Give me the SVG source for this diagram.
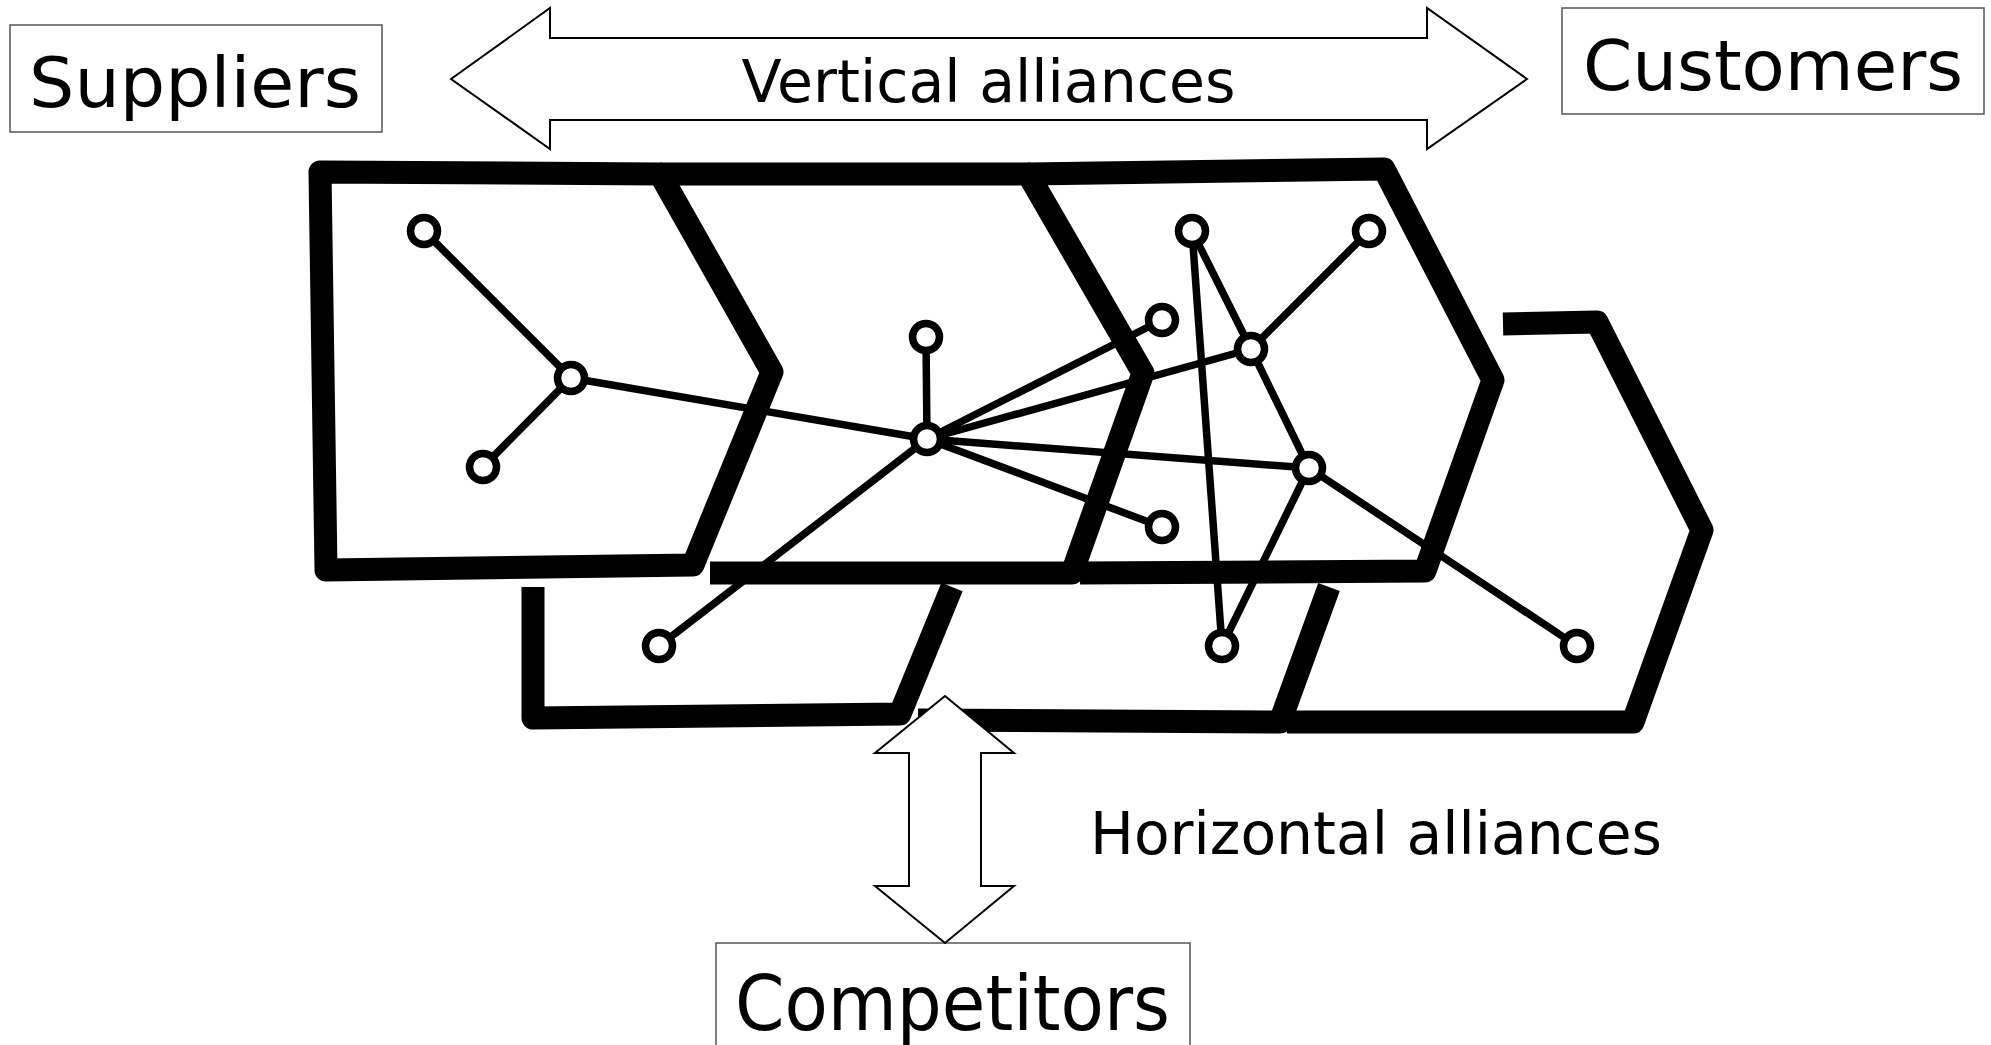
<svg xmlns="http://www.w3.org/2000/svg" width="1991" height="1045" viewBox="0 0 1991 1045">
<style>
.lbl{font-family:"DejaVu Sans","Liberation Sans",sans-serif;fill:#000}
.box{fill:#fff;stroke:#555;stroke-width:1.5}
.arrow{fill:#fff;stroke:#000;stroke-width:2;stroke-linejoin:miter}
.sk{fill:none;stroke:#000;stroke-width:23;stroke-linejoin:round;stroke-linecap:butt}
.edge{stroke:#000;stroke-width:7.5;stroke-linecap:round}
.nd{fill:#fff;stroke:#000;stroke-width:7.5}
</style>
<rect width="1991" height="1045" fill="#fff"/>

<g id="firm-boxes">
<path id="box1" class="sk" d="M320,172 L660,174 L772,372 L693,565 L326,570 Z"/>
<path id="box2" class="sk" d="M710,573 L1072,573 L1143,373 L1028,174 L660,174"/>
<path id="box3" class="sk" d="M1080,573 L1425,571 L1493,380 L1384,169 L1028,174"/>
<path id="box4" class="sk" d="M533,587 L533,718 L900,714 L952,587"/>
<path id="box5" class="sk" d="M918,720 L1280,722 L1329,587"/>
<path id="box6" class="sk" d="M1287,722 L1633,722 L1702,530 L1597,322 L1503,324"/>
</g>

<g id="connectors">
<line class="edge" x1="424" y1="231" x2="571" y2="378"/>
<line class="edge" x1="483" y1="467" x2="571" y2="378"/>
<line class="edge" x1="571" y1="378" x2="927" y2="439"/>
<line class="edge" x1="926" y1="337" x2="927" y2="439"/>
<line class="edge" x1="927" y1="439" x2="1162" y2="320"/>
<line class="edge" x1="927" y1="439" x2="1251" y2="349"/>
<line class="edge" x1="927" y1="439" x2="1309" y2="468"/>
<line class="edge" x1="927" y1="439" x2="1162" y2="527"/>
<line class="edge" x1="927" y1="439" x2="659" y2="646"/>
<line class="edge" x1="1192" y1="231" x2="1222" y2="646"/>
<line class="edge" x1="1192" y1="231" x2="1251" y2="349"/>
<line class="edge" x1="1369" y1="231" x2="1251" y2="349"/>
<line class="edge" x1="1251" y1="349" x2="1309" y2="468"/>
<line class="edge" x1="1309" y1="468" x2="1222" y2="646"/>
<line class="edge" x1="1309" y1="468" x2="1577" y2="646"/>
</g>

<g id="n1"><circle class="nd" cx="424" cy="231" r="13.5"/></g>
<g id="n2"><circle class="nd" cx="571" cy="378" r="13.5"/></g>
<g id="n3"><circle class="nd" cx="483" cy="467" r="13.5"/></g>
<g id="n4"><circle class="nd" cx="927" cy="439" r="13.5"/></g>
<g id="n5"><circle class="nd" cx="926" cy="337" r="13.5"/></g>
<g id="n6"><circle class="nd" cx="1162" cy="320" r="13.5"/></g>
<g id="n7"><circle class="nd" cx="1162" cy="527" r="13.5"/></g>
<g id="n8"><circle class="nd" cx="1192" cy="231" r="13.5"/></g>
<g id="n9"><circle class="nd" cx="1369" cy="231" r="13.5"/></g>
<g id="n10"><circle class="nd" cx="1251" cy="349" r="13.5"/></g>
<g id="n11"><circle class="nd" cx="1309" cy="468" r="13.5"/></g>
<g id="n12"><circle class="nd" cx="659" cy="646" r="13.5"/></g>
<g id="n13"><circle class="nd" cx="1222" cy="646" r="13.5"/></g>
<g id="n14"><circle class="nd" cx="1577" cy="646" r="13.5"/></g>

<g id="suppliers">
<rect class="box" x="10" y="25" width="372" height="107"/>
<text class="lbl" x="29" y="107" font-size="70" textLength="332" lengthAdjust="spacingAndGlyphs">Suppliers</text>
</g>
<g id="customers">
<rect class="box" x="1562" y="8" width="422" height="106"/>
<text class="lbl" x="1583" y="90" font-size="70" textLength="380" lengthAdjust="spacingAndGlyphs">Customers</text>
</g>
<g id="competitors">
<rect class="box" x="716" y="943" width="474" height="120"/>
<text class="lbl" x="735" y="1030" font-size="76" textLength="435" lengthAdjust="spacingAndGlyphs">Competitors</text>
</g>

<g id="vertical-arrow">
<polygon class="arrow" points="451,79 550,8 550,38 1427,38 1427,8 1527,79 1427,149 1427,120 550,120 550,149"/>
<text class="lbl" x="741.5" y="101.7" font-size="58" textLength="494" lengthAdjust="spacingAndGlyphs">Vertical alliances</text>
</g>
<g id="horizontal-arrow">
<polygon class="arrow" points="945,696 1014,753 981,753 981,886 1014,886 945,943 875,886 909,886 909,753 875,753"/>
<text class="lbl" x="1090" y="854" font-size="58" textLength="572" lengthAdjust="spacingAndGlyphs">Horizontal alliances</text>
</g>
</svg>
